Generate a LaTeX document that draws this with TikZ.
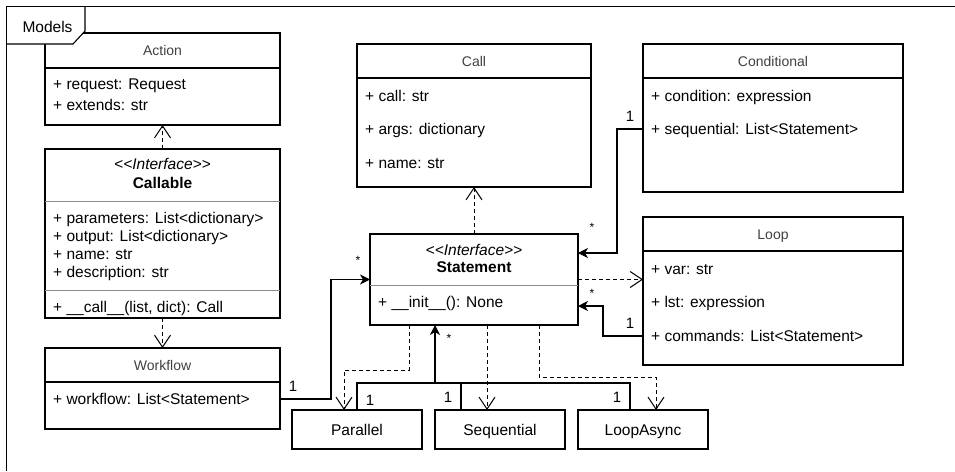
\documentclass[tikz,border=0pt]{standalone}
\usepackage{fontspec}
\setmainfont{Liberation Sans}
\usetikzlibrary{arrows.meta}
\newcommand\umlstereo[1]{\textit{<\kern0pt<#1>\kern0pt>}}
\tikzset{
  cls/.style={draw, line width=1.1pt, anchor=north west, inner sep=0pt, outer sep=0pt,
    font=\fontsize{15.5}{18}\selectfont, text height=11.1pt, text depth=0pt},
  hdr/.style={font=\fontsize{14}{16}\selectfont, text=black!75, inner sep=0pt, text height=10pt, text depth=0pt},
  attr/.style={anchor=west, font=\fontsize{15.5}{18}\selectfont, inner sep=0pt, text height=11.1pt, text depth=0pt},
  ctext/.style={font=\fontsize{15.5}{18}\selectfont, inner sep=0pt, text height=11.1pt, text depth=0pt},
  divider/.style={draw=black!45, line width=0.8pt},
  frame/.style={line width=1.1pt},
  plain/.style={line width=1.1pt},
  dep/.style={line width=1pt, dash pattern=on 4pt off 3pt, -{Straight Barb[length=12pt,width=16pt]}},
  assoc/.style={line width=1.1pt, -{Stealth[length=10pt,width=10pt,inset=3pt]}},
  mult/.style={font=\fontsize{15}{17}\selectfont, inner sep=0pt, text height=11pt, text depth=0pt},
  star/.style={font=\fontsize{12}{14}\selectfont, inner sep=0pt, anchor=base}
}
\begin{document}
\begin{tikzpicture}[x=1pt,y=-1pt]
\useasboundingbox (0,0) rectangle (955,471);

% Action
\node[cls, minimum width=235pt, minimum height=35pt] (acth) at (45,33) {};
\node[cls, minimum width=235pt, minimum height=57pt] (actb) at (45,68) {};
\node[hdr] (actt) at (acth.center) {Action};
\node[attr] (act1) at (53,84) {+ request: Request};
\node[attr] (act2) at (53,105) {+ extends: str};

% frame and tab
\coordinate (fbl) at (6.5,471);
\coordinate (ftl) at (6.5,6.5);
\coordinate (ftr) at (955,6.5);
\coordinate (tab1) at (6.5,44);
\coordinate (tab2) at (73,44);
\coordinate (tab3) at (85,31);
\coordinate (tab4) at (85,6.5);
\fill[white] (ftl) -- (tab4) -- (tab3) -- (tab2) -- (tab1) -- cycle;
\draw[frame] (fbl) -- (ftl) -- (ftr);
\draw[frame] (tab1) -- (tab2) -- (tab3) -- (tab4);
\node[ctext] (models) at (47.5,27) {Models};

% Callable
\node[cls, minimum width=235pt, minimum height=169pt] (calb) at (45,149) {};
\draw[divider] ([yshift=-52pt]calb.north west) -- ([yshift=-52pt]calb.north east);
\draw[divider] ([yshift=-141pt]calb.north west) -- ([yshift=-141pt]calb.north east);
\node[ctext] (cal0) at (162.5,164) {\umlstereo{Interface}};
\node[ctext] (calt) at (162.5,183) {\textbf{Callable}};
\node[attr] (cal1) at (53,218) {+ parameters: List<dictionary>};
\node[attr] (cal2) at (53,236) {+ output: List<dictionary>};
\node[attr] (cal3) at (53,254) {+ name: str};
\node[attr] (cal4) at (53,272) {+ description: str};
\node[attr] (cal5) at (53,307) {+ \_\_call\_\_(list, dict): Call};

% Workflow
\node[cls, minimum width=235pt, minimum height=34pt] (wfh) at (45,348) {};
\node[cls, minimum width=235pt, minimum height=47pt] (wfb) at (45,382) {};
\node[hdr] (wft) at (wfh.center) {Workflow};
\node[attr] (wf1) at (53,399) {+ workflow: List<Statement>};

% Call
\node[cls, minimum width=234pt, minimum height=34pt] (callh) at (357,44) {};
\node[cls, minimum width=234pt, minimum height=109pt] (callb) at (357,78) {};
\node[hdr] (callt) at (callh.center) {Call};
\node[attr] (call1) at (365,96) {+ call: str};
\node[attr] (call2) at (365,129) {+ args: dictionary};
\node[attr] (call3) at (365,163) {+ name: str};

% Conditional
\node[cls, minimum width=260pt, minimum height=34pt] (condh) at (643,44) {};
\node[cls, minimum width=260pt, minimum height=114pt] (condb) at (643,78) {};
\node[hdr] (condt) at (condh.center) {Conditional};
\node[attr] (cond1) at (651,96) {+ condition: expression};
\node[attr] (cond2) at (651,129) {+ sequential: List<Statement>};

% Loop
\node[cls, minimum width=260pt, minimum height=34pt] (looph) at (643,217) {};
\node[cls, minimum width=260pt, minimum height=114pt] (loopb) at (643,251) {};
\node[hdr] (loopt) at (looph.center) {Loop};
\node[attr] (loop1) at (651,269) {+ var: str};
\node[attr] (loop2) at (651,302) {+ lst: expression};
\node[attr] (loop3) at (651,336) {+ commands: List<Statement>};

% Statement
\node[cls, minimum width=208pt, minimum height=91pt] (stmt) at (370,234) {};
\draw[divider] ([yshift=-51pt]stmt.north west) -- ([yshift=-51pt]stmt.north east);
\node[ctext] (stmt0) at (474,250) {\umlstereo{Interface}};
\node[ctext] (stmtt) at (474,267) {\textbf{Statement}};
\node[attr] (stmt1) at (378,302) {+ \_\_init\_\_(): None};

% bottom classes
\node[cls, minimum width=130pt, minimum height=39pt] (par) at (292,410) {Parallel};
\node[cls, minimum width=130pt, minimum height=39pt] (seq) at (435,410) {Sequential};
\node[cls, minimum width=130pt, minimum height=39pt] (lasync) at (578,410) {LoopAsync};

% dependencies
\draw[dep] (calb.north) -- (actb.south);
\draw[dep] (calb.south) -- (wfh.north);
\draw[dep] (stmt.north) -- (callb.south);
\draw[dep] (stmt.east) -- (loopb.west |- stmt.east);
\draw[dep] ([xshift=-65pt]stmt.south) -- ++(0,45) -| ([xshift=-13pt]par.north);
\draw[dep] ([xshift=13pt]stmt.south) -- ([xshift=-13pt]seq.north);
\draw[dep] ([xshift=65pt]stmt.south) -- ++(0,52) -| ([xshift=13pt]lasync.north);

% associations
\draw[assoc] (wfb.east |- wf1) -- ++(51,0) |- (stmt.west);
\draw[assoc] (condb.west |- cond2) -- ++(-26,0) |- ([yshift=26.5pt]stmt.east);
\draw[assoc] (loopb.west |- loop3) -- ++(-40,0) |- ([yshift=-26.5pt]stmt.east);
\coordinate (j) at (435,383);
\draw[plain] (par.north) |- (j);
\draw[plain] ([xshift=26pt]seq.north west) |- (j);
\draw[plain] ([xshift=-13pt]lasync.north) |- (j);
\draw[assoc] (j) -- (stmt.south -| j);

% multiplicities
\node[mult] (m1) at (293,386) {1};
\node[star] (s1) at (358,264) {*};
\node[mult] (m2) at (630,116) {1};
\node[star] (s2) at (592,231) {*};
\node[mult] (m3) at (630,323) {1};
\node[star] (s3) at (592,297) {*};
\node[star] (s4) at (449,342) {*};
\node[mult] (m4) at (370,400) {1};
\node[mult] (m5) at (448,397) {1};
\node[mult] (m6) at (617,397) {1};
\end{tikzpicture}
\end{document}
